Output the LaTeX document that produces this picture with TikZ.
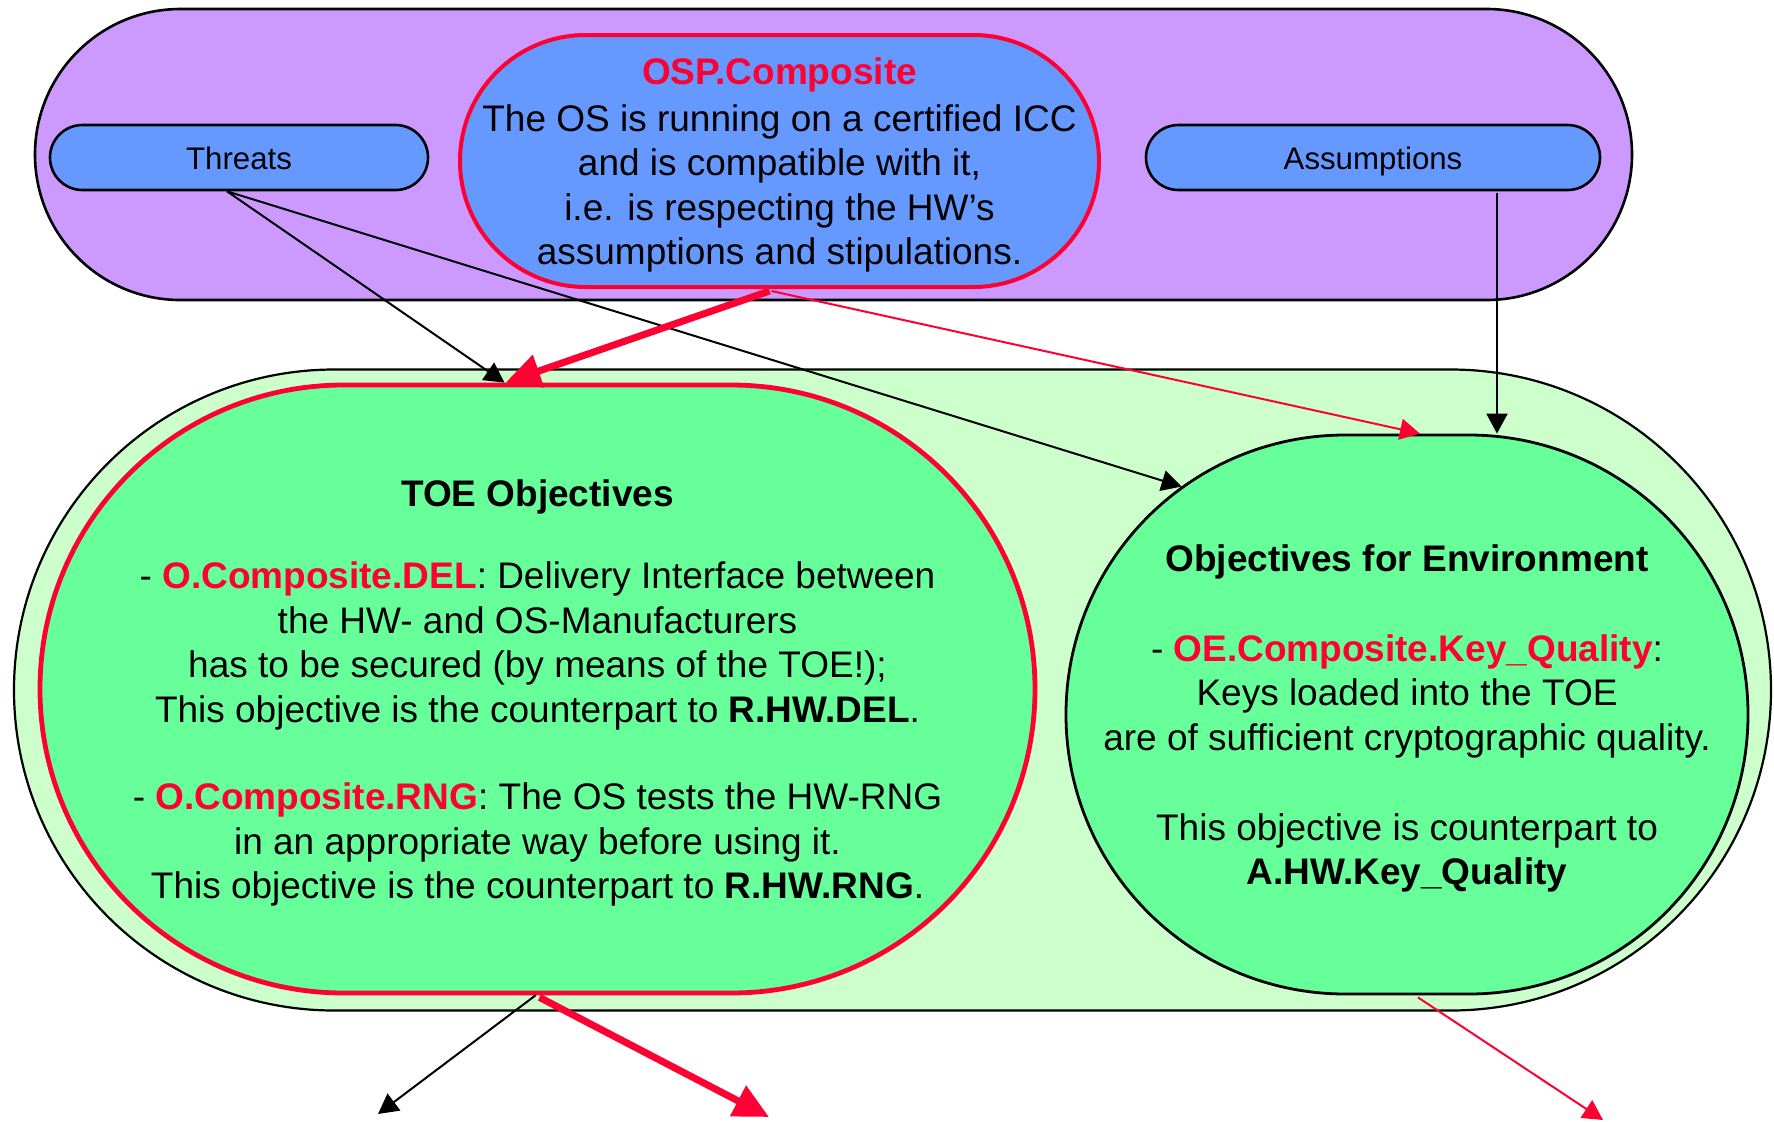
\documentclass[tikz,border=0pt]{standalone}
\usepackage{fontspec}
\setmainfont{Liberation Sans}
\usepackage{xcolor}
\usetikzlibrary{arrows.meta, positioning, calc}
\definecolor{CmpPurple}{HTML}{CC99FF}
\definecolor{CmpBlue}{HTML}{6699FF}
\definecolor{CmpRed}{HTML}{FF0033}
\definecolor{CmpPale}{HTML}{CCFFCC}
\definecolor{CmpGreen}{HTML}{66FF99}
\definecolor{CmpBlack}{HTML}{000000}
\tikzset{
    % Pill shaped boxes, corner radius is given per node
    pill/.style={
        rectangle,
        draw=CmpBlack,
        line width=1.3pt,
        inner sep=0pt,
        align=center,
        font=\fontsize{18.5pt}{22.25pt}\selectfont
    },
    pill purple/.style={
        pill,
        fill=CmpPurple
    },
    pill blue/.style={
        pill,
        fill=CmpBlue,
        text height=11.8pt,
        text depth=0pt,
        font=\fontsize{15.6pt}{18.7pt}\selectfont
    },
    pill osp/.style={
        pill,
        fill=CmpBlue,
        draw=CmpRed,
        line width=2pt,
        text depth=-1.4pt
    },
    pill pale/.style={
        pill,
        fill=CmpPale,
        line width=1.1pt
    },
    pill toe/.style={
        pill,
        fill=CmpGreen,
        draw=CmpRed,
        line width=2.4pt,
        text depth=-1.6pt
    },
    pill env/.style={
        pill,
        fill=CmpGreen,
        line width=1.4pt,
        text depth=-1.6pt
    },
    arrow style/.style={
        -{Triangle[length=10pt,width=10.5pt]},
        line width=1pt,
        CmpBlack
    },
    arrow red/.style={
        arrow style,
        CmpRed
    },
    arrow red thick/.style={
        -{Triangle[length=17.5pt,width=16.5pt]},
        line width=3.5pt,
        CmpRed
    }
}

\begin{document}
\begin{tikzpicture}[x=0.5pt, y=-0.5pt]
    \useasboundingbox (0,0) rectangle (1774,1121);

    % Upper band: threats, policy, assumptions
    \node[pill purple, minimum width=798.5pt, minimum height=145.5pt, rounded corners=72.7pt] (band) at (833.5,154.5) {};
    \node[pill blue, minimum width=189pt, minimum height=32.5pt, rounded corners=16.2pt] (threats) at (239,157.5) {Threats};
    \node[pill blue, minimum width=227pt, minimum height=32.5pt, rounded corners=16.2pt] (assump) at (1373,157.5) {Assumptions};
    \node[pill osp, minimum width=319.5pt, minimum height=126pt, rounded corners=62.9pt] (osp) at (779.5,161) {
        \textcolor{CmpRed}{\bfseries OSP.Composite}\\[1.25pt]
        The OS is running on a certified ICC\\
        and is compatible with it,\\
        i.e. is respecting the HW’s\\
        assumptions and stipulations.
    };

    % Lower band: objectives
    \node[pill pale, minimum width=878.5pt, minimum height=320.5pt, rounded corners=160.2pt] (objectives) at (892.5,690) {};
    \node[pill toe, minimum width=497.5pt, minimum height=304pt, rounded corners=151.9pt] (toe) at (537.5,689) {
        \textbf{TOE Objectives}\\[19pt]
        - \textcolor{CmpRed}{\textbf{O.Composite.DEL}}: Delivery Interface between\\
        the HW- and OS-Manufacturers\\
        has to be secured (by means of the TOE!);\\
        This objective is the counterpart to \textbf{R.HW.DEL}.\\[21.5pt]
        - \textcolor{CmpRed}{\textbf{O.Composite.RNG}}: The OS tests the HW-RNG\\
        in an appropriate way before using it.\\
        This objective is the counterpart to \textbf{R.HW.RNG}.
    };
    \node[pill env, minimum width=341pt, minimum height=279.5pt, rounded corners=139.7pt] (env) at (1407,714.5) {
        \textbf{Objectives for Environment}\\[22.75pt]
        - \textcolor{CmpRed}{\textbf{OE.Composite.Key\_Quality}}:\\
        Keys loaded into the TOE\\
        are of sufficient cryptographic quality.\\[22.75pt]
        This objective is counterpart to\\
        \textbf{A.HW.Key\_Quality}
    };

    % Free ends below the picture
    \coordinate (outa) at (378,1114);
    \coordinate (outb) at (769,1117);
    \coordinate (outc) at (1603,1120);

    \draw[arrow style] ($(threats.south)+(-12,0)$) -- ($(toe.north)+(-33,0)$);
    \draw[arrow style] ($(threats.south)+(-12,0)$) -- ($(env.north west)+(117,53)$);
    \draw[arrow style] ($(assump.south)+(124,2)$) -- ($(env.north)+(90,0)$);
    \draw[arrow red thick] ($(osp.south)+(-10,2)$) -- ($(toe.north)+(-32,0)$);
    \draw[arrow red] ($(osp.south)+(-8,2)$) -- ($(env.north)+(13,0)$);
    \draw[arrow style] ($(toe.south)+(-2,0)$) -- (outa);
    \draw[arrow red thick] ($(toe.south)+(2,2)$) -- (outb);
    \draw[arrow red] ($(env.south)+(11,2)$) -- (outc);
\end{tikzpicture}
\end{document}
